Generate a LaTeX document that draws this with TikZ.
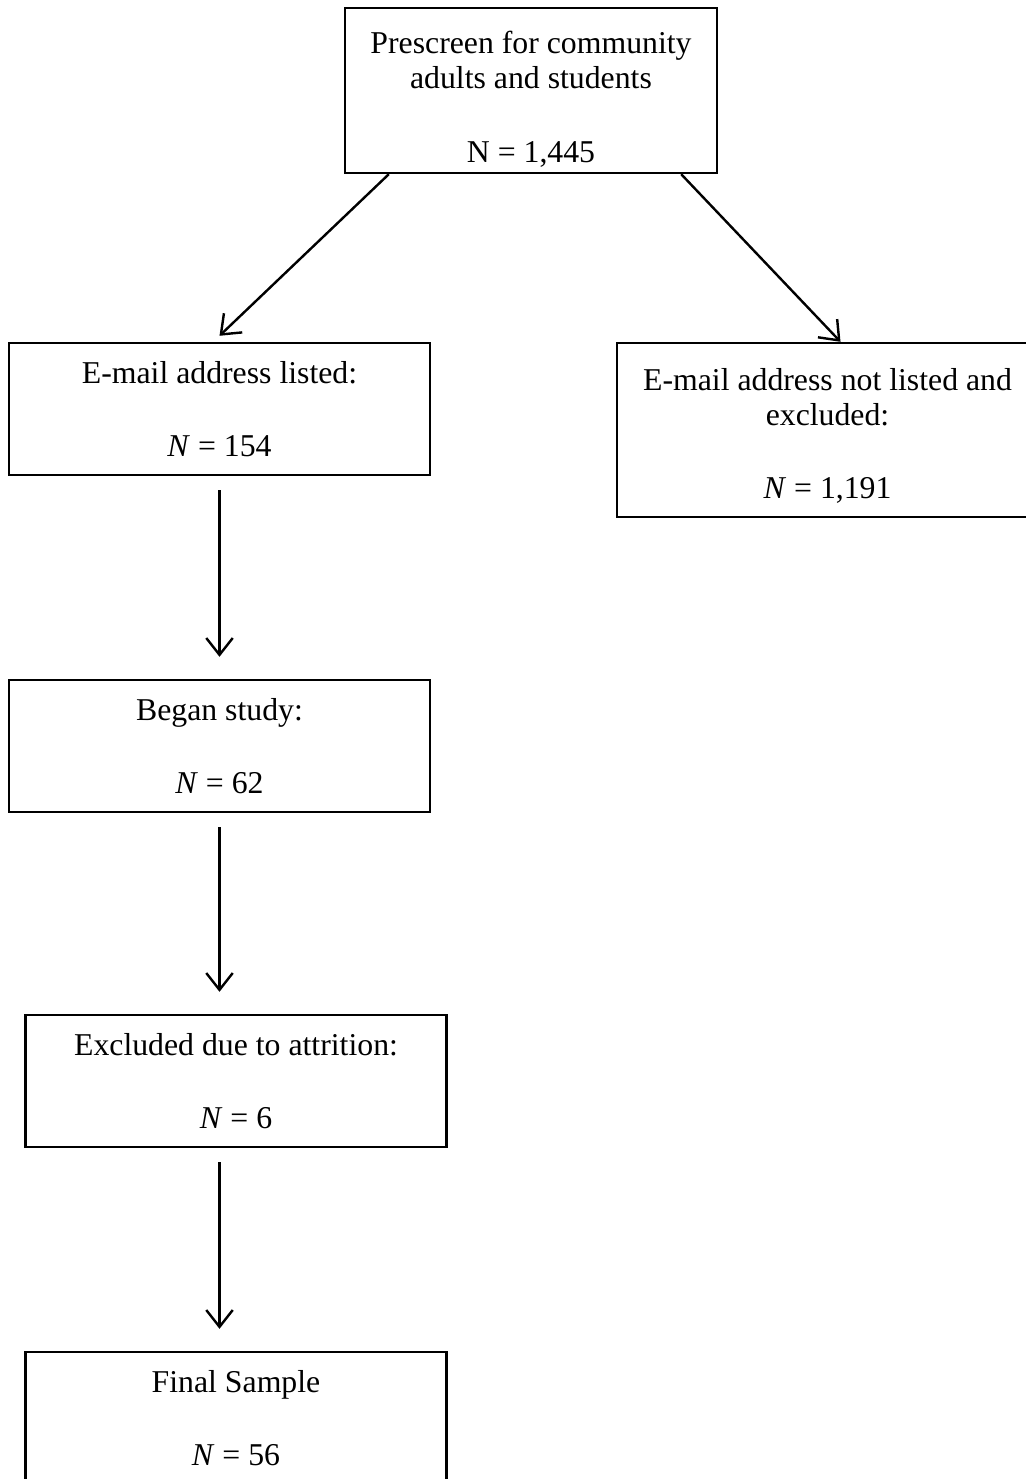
\documentclass[tikz,border=0pt]{standalone}
\usepackage{fontspec}
\setmainfont{Liberation Serif}
\usetikzlibrary{arrows.meta}

\newcommand{\px}{0.0146cm}

\begin{document}
\begin{tikzpicture}[x=\px,y=-\px,
    caja/.style={draw,line width=1pt,align=center,inner sep=0pt,
      minimum width=421*\px,minimum height=132*\px,
      font=\fontsize{13.2}{14.5}\selectfont},
    flecha/.style={-{Straight Barb[length=7pt,width=11pt]},line width=1pt}]
        \clip (0,0) rectangle (1026,1479);
        \node[caja,minimum width=372*\px,minimum height=165*\px] (pre) at (531,90.5)
            {\rule{0pt}{16.5pt}Prescreen for community\\adults and students\\[16pt]N = 1,445};
        \node[caja] (listed) at (219.5,409) {E-mail address listed:\\[16pt]\textit{N} = 154};
        \node[caja,minimum height=174*\px] (notlisted) at (827.5,430)
            {\rule{0pt}{14pt}E-mail address not listed and\\excluded:\\[16pt]\textit{N} = 1,191};
        \node[caja] (began) at (219.5,746) {Began study:\\[16pt]\textit{N} = 62};
        \node[caja] (excl) at (236,1081) {Excluded due to attrition:\\[16pt]\textit{N} = 6};
        \node[caja] (final) at (236,1418) {Final Sample\\[16pt]\textit{N} = 56};
        \coordinate (a3) at (began.south |- excl.north);
        \coordinate (d4) at (began.south |- excl.south);
        \coordinate (a4) at (began.south |- final.north);
        \draw[flecha] ([xshift=45*\px]pre.south west) -- ([yshift=6*\px]listed.north);
        \draw[flecha] ([xshift=-37*\px]pre.south east) -- ([xshift=13*\px]notlisted.north);
        \draw[flecha] ([yshift=-14*\px]listed.south) -- ([yshift=22*\px]began.north);
        \draw[flecha] ([yshift=-14*\px]began.south) -- ([yshift=22*\px]a3);
        \draw[flecha] ([yshift=-14*\px]d4) -- ([yshift=22*\px]a4);
\end{tikzpicture}
\end{document}
